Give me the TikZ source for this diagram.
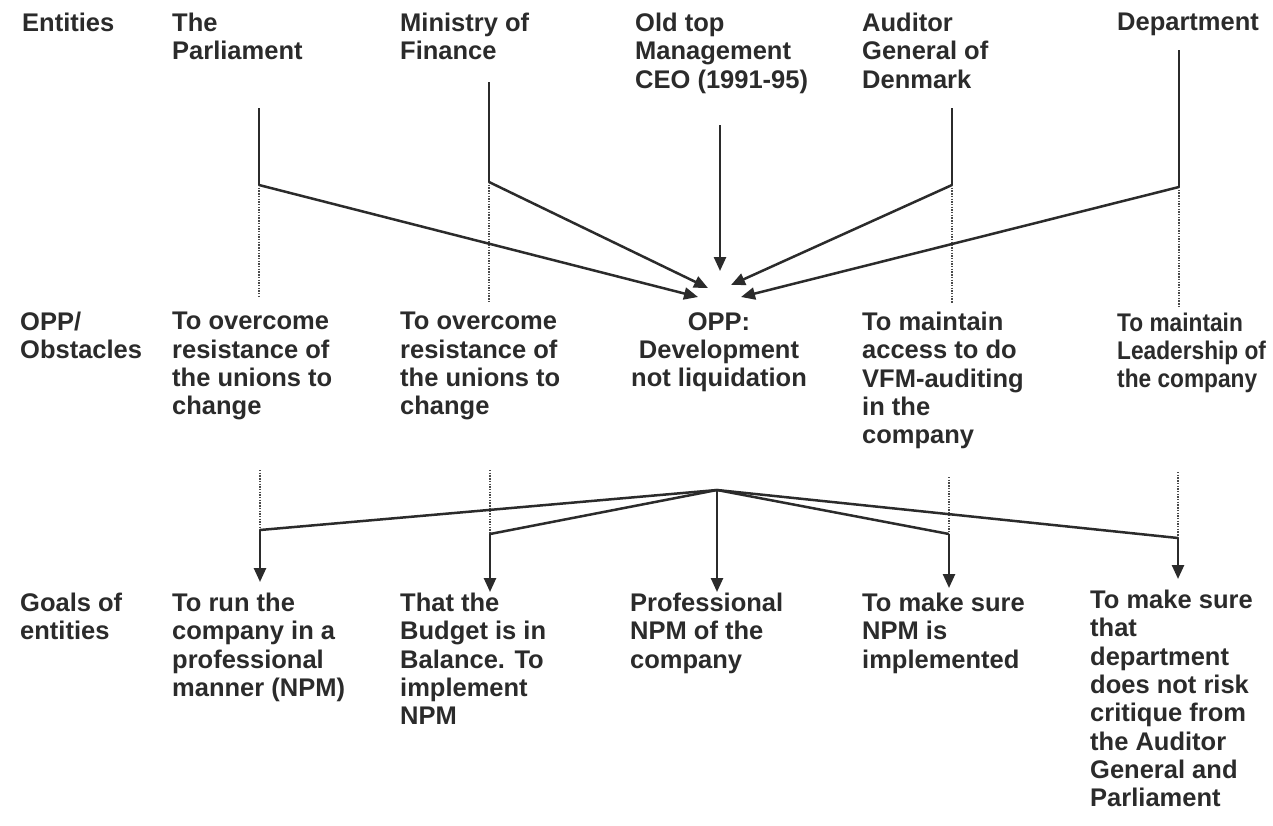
\documentclass[tikz,border=0pt]{standalone}
\usepackage{fontspec}
\setmainfont{Liberation Sans}
\usetikzlibrary{arrows.meta}
\definecolor{ink}{HTML}{2B2B2B}
\begin{document}
\begin{tikzpicture}[x=1pt,y=-1pt,
  txt/.style={anchor=north west,inner sep=0pt,align=left,text=ink,
    font=\bfseries\fontsize{25.5}{28.3}\selectfont},
  txtc/.style={txt,anchor=north,align=center},
  solidline/.style={draw=ink,line width=2.5pt},
  dotline/.style={draw=ink!85,line width=2pt,dash pattern=on 1.4pt off 1.3pt},
  arr/.style={solidline,-{Triangle[length=14pt,width=12pt]}}]
\useasboundingbox (0,0) rectangle (1273,825);
\fill[white] (0,0) rectangle (1273,825);
% labels
\node[txt] (lent) at (22,13) {Entities};
\node[txt] (lopp) at (20,312) {OPP/\\Obstacles};
\node[txt] (lgoal) at (20,593) {Goals of\\entities};
% entities
\node[txt] (e1) at (172,13) {The\\Parliament};
\node[txt] (e2) at (400,13) {Ministry of\\Finance};
\node[txt] (e3) at (635,13) {Old top\\Management\\CEO (1991-95)};
\node[txt] (e4) at (862,13) {Auditor\\General of\\Denmark};
\node[txt] (e5) at (1117,13) {Department};
% obstacles
\node[txt] (o1) at (172,312) {To overcome\\resistance of\\the unions to\\change};
\node[txt] (o2) at (400,312) {To overcome\\resistance of\\the unions to\\change};
\node[txtc] (o3) at (719,312) {OPP:\\Development\\not liquidation};
\node[txt] (o4) at (862,312) {To maintain\\access to do\\VFM-auditing\\in the\\company};
\node[txt] (o5) at (1117,311) {\scalebox{0.89}[1]{\begin{tabular}{@{}l@{}}To maintain\\Leadership of\\the company\end{tabular}}};
% goals
\node[txt] (g1) at (172,593) {To run the\\company in a\\professional\\manner (NPM)};
\node[txt] (g2) at (400,593) {That the\\Budget is in\\Balance. To\\implement\\NPM};
\node[txt] (g3) at (630,593) {Professional\\NPM of the\\company};
\node[txt] (g4) at (862,593) {To make sure\\NPM is\\implemented};
\node[txt] (g5) at (1090,590) {To make sure\\that\\department\\does not risk\\critique from\\the Auditor\\General and\\Parliament};
% top coordinates
\coordinate (t1) at (259,108); \coordinate (j1) at (259,185); \coordinate (d1) at (259,298);
\coordinate (t2) at (489,82);  \coordinate (j2) at (489,182); \coordinate (d2) at (489,302);
\coordinate (t3) at (720,125);
\coordinate (t4) at (952,108); \coordinate (j4) at (952,185); \coordinate (d4) at (952,303);
\coordinate (t5) at (1179,50); \coordinate (j5) at (1179,187); \coordinate (d5) at (1179,307);
\coordinate (p1) at (698,297);
\coordinate (p2) at (708,288);
\coordinate (p3) at (720,271);
\coordinate (p4) at (731,285);
\coordinate (p5) at (741,297);
% upper connectors
\draw[solidline] (t1) -- (j1); \draw[dotline] (j1) -- (d1);
\draw[solidline] (t2) -- (j2); \draw[dotline] (j2) -- (d2);
\draw[solidline] (t4) -- (j4); \draw[dotline] (j4) -- (d4);
\draw[solidline] (t5) -- (j5); \draw[dotline] (j5) -- (d5);
\draw[arr] (j1) -- (p1);
\draw[arr] (j2) -- (p2);
\draw[arr] (t3) -- (p3);
\draw[arr] (j4) -- (p4);
\draw[arr] (j5) -- (p5);
% lower coordinates
\coordinate (hub) at (717,490);
\coordinate (b1) at (260,470); \coordinate (k1) at (260,530); \coordinate (q1) at (260,582);
\coordinate (b2) at (490,470); \coordinate (k2) at (490,534); \coordinate (q2) at (490,592);
\coordinate (q3) at (717,592);
\coordinate (b4) at (949,477); \coordinate (k4) at (949,534); \coordinate (q4) at (949,588);
\coordinate (b5) at (1178,472); \coordinate (k5) at (1178,538); \coordinate (q5) at (1178,579);
\draw[dotline] (b1) -- (k1);
\draw[dotline] (b2) -- (k2);
\draw[dotline] (b4) -- (k4);
\draw[dotline] (b5) -- (k5);
\draw[solidline] (hub) -- (k1); \draw[arr] (k1) -- (q1);
\draw[solidline] (hub) -- (k2); \draw[arr] (k2) -- (q2);
\draw[arr] (hub) -- (q3);
\draw[solidline] (hub) -- (k4); \draw[arr] (k4) -- (q4);
\draw[solidline] (hub) -- (k5); \draw[arr] (k5) -- (q5);
\end{tikzpicture}
\end{document}
